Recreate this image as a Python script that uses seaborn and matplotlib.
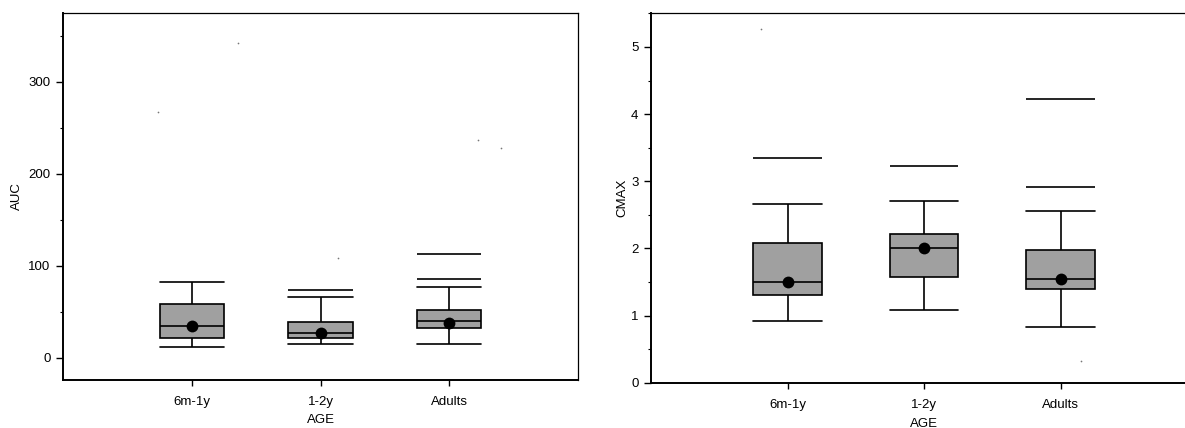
import numpy as np
import pandas as pd
import matplotlib
matplotlib.use("Agg")
import matplotlib.pyplot as plt
from matplotlib.ticker import MultipleLocator
import seaborn as sns

# Age groups on the x axis
groups = ["6m-1y", "1-2y", "Adults"]

# AUC summary per age group
auc_min = [11.6, 14.6, 14.6]
auc_q1 = [21.1, 21.1, 32.0]
auc_median = [35.0, 27.5, 40.0]
auc_q3 = [58.4, 39.2, 51.9]
auc_max = [82.0, 66.4, 77.2]
auc_mean = [35.0, 27.0, 38.0]
auc_extra = [[], [73.6], [85.3, 112.8]]
auc_outliers = [[267.8, 342.0], [108.8], [236.8, 227.8]]
auc_outlier_shift = [[-0.26, 0.36], [0.135], [0.22, 0.40]]

# CMAX summary per age group
cmax_min = [0.92, 1.085, 0.836]
cmax_q1 = [1.31, 1.573, 1.394]
cmax_median = [1.50, 2.00, 1.55]
cmax_q3 = [2.08, 2.22, 1.97]
cmax_max = [2.667, 2.70, 2.563]
cmax_mean = [1.50, 2.00, 1.54]
cmax_extra = [[3.35], [3.234], [2.916, 4.219]]
cmax_outliers = [[5.26], [], [0.32]]
cmax_outlier_shift = [[-0.195], [], [0.15]]

sns.set_style("ticks")
plt.rcParams["font.family"] = ["Liberation Sans", "DejaVu Sans"]
plt.rcParams["font.size"] = 9.5
for key in ("text.color", "axes.labelcolor", "xtick.color", "ytick.color",
            "axes.edgecolor"):
    plt.rcParams[key] = "black"

BOX_FILL = "#a0a0a0"
BOX_WIDTH = 0.5


def five_number_frame(lo, q1, med, q3, hi):
    rows = []
    for g, a, b, c, d, e in zip(groups, lo, q1, med, q3, hi):
        for v in (a, b, c, d, e):
            rows.append({"AGE": g, "value": v})
    return pd.DataFrame(rows)


def draw_panel(ax, lo, q1, med, q3, hi, mean, extra, outliers, shifts, ylabel,
               ylim, major, minor, labelpad):
    df = five_number_frame(lo, q1, med, q3, hi)
    sns.boxplot(data=df, x="AGE", y="value", order=groups, ax=ax,
                whis=(0, 100), width=BOX_WIDTH, showfliers=False,
                color=BOX_FILL, saturation=1, linecolor="black", linewidth=1.2,
                capwidths=BOX_WIDTH,
                medianprops={"color": "black", "linewidth": 1.2})
    sns.stripplot(x=groups, y=mean, order=groups, ax=ax, jitter=False,
                  color="black", size=8.5, zorder=5)
    for i, marks in enumerate(extra):
        if marks:
            ax.hlines(marks, i - BOX_WIDTH / 2, i + BOX_WIDTH / 2,
                      color="black", linewidth=1.2)
    for i, (vals, offs) in enumerate(zip(outliers, shifts)):
        if vals:
            ax.scatter(np.array(offs) + i, vals, s=1.5, color="#777777",
                       linewidths=0, zorder=4)
    ax.set_xlim(-1, 3)
    ax.set_ylim(*ylim)
    ax.yaxis.set_major_locator(MultipleLocator(major))
    ax.yaxis.set_minor_locator(MultipleLocator(minor))
    ax.tick_params(axis="y", which="major", length=5, width=1, pad=4,
                   labelsize=9.5)
    ax.tick_params(axis="y", which="minor", length=2.5, width=0.8)
    ax.tick_params(axis="x", which="major", length=4, width=1, pad=8,
                   labelsize=9.5)
    ax.set_xlabel("AGE", fontsize=9.5, labelpad=4.5)
    ax.set_ylabel(ylabel, fontsize=9.5, labelpad=labelpad)
    for side in ("left", "bottom"):
        ax.spines[side].set_linewidth(1.4)
    for side in ("top", "right"):
        ax.spines[side].set_visible(True)
        ax.spines[side].set_linewidth(0.9)


fig = plt.figure(figsize=(11.85, 4.28), dpi=100)
ax1 = fig.add_axes([0.0532, 0.1133, 0.4346, 0.8556])
ax2 = fig.add_axes([0.5494, 0.1058, 0.4608, 0.8630])

draw_panel(ax1, auc_min, auc_q1, auc_median, auc_q3, auc_max, auc_mean,
           auc_extra, auc_outliers, auc_outlier_shift, "AUC",
           (-23.5, 374.6), 100, 50, 4)
draw_panel(ax2, cmax_min, cmax_q1, cmax_median, cmax_q3, cmax_max, cmax_mean,
           cmax_extra, cmax_outliers, cmax_outlier_shift, "CMAX",
           (0, 5.5), 1, 0.5, 2)

fig.savefig("out.png", dpi=100)
